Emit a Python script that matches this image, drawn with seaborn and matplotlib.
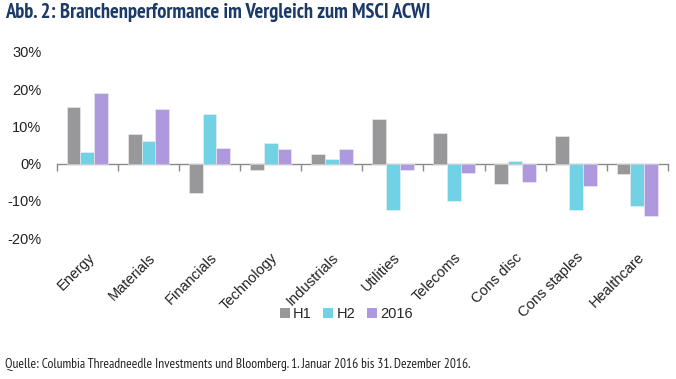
import matplotlib
matplotlib.use("Agg")
import matplotlib.pyplot as plt
from matplotlib.patches import Patch
import seaborn as sns
import pandas as pd

sectors = ["Energy", "Materials", "Financials", "Technology", "Industrials",
           "Utilities", "Telecoms", "Cons disc", "Cons staples", "Healthcare"]
h1 = [15.3, 8.0, -8.0, -1.6, 2.5, 12.0, 8.3, -5.6, 7.3, -2.9]
h2 = [3.1, 6.1, 13.2, 5.5, 1.3, -12.5, -10.1, 0.7, -12.5, -11.5]
y2016 = [18.9, 14.7, 4.3, 3.9, 3.8, -1.8, -2.5, -4.9, -6.0, -14.0]
periods = ["H1", "H2", "2016"]
colors = ["#98989a", "#72d2e5", "#ae98de"]
y_ticks = [-20, -10, 0, 10, 20, 30]

df = pd.DataFrame({"sector": sectors * 3,
                   "period": ["H1"] * 10 + ["H2"] * 10 + ["2016"] * 10,
                   "value": h1 + h2 + y2016})

sns.set_style("white")
narrow = ["PT Sans Narrow", "Archivo Narrow", "DejaVu Sans"]
plt.rcParams["font.family"] = ["Liberation Sans", "DejaVu Sans"]

fig = plt.figure(figsize=(6.76, 3.79), dpi=100)
ax = fig.add_axes([0.084, 0.372, 0.904, 0.491])

sns.barplot(data=df, x="sector", y="value", hue="period", hue_order=periods,
            palette=colors, width=0.68, edgecolor="#f0f0f0", linewidth=0.4,
            saturation=1, ax=ax)
ax.get_legend().remove()

ax.set_ylim(-20, 30)
ax.set_xlim(-0.5, len(sectors) - 0.5)
ax.set_yticks(y_ticks)
ax.set_yticklabels([f"{t}%" for t in y_ticks], fontsize=10.5, color="#222222")
ax.set_xlabel("")
ax.set_ylabel("")
ax.tick_params(axis="both", length=0)
ax.tick_params(axis="y", pad=11)
ax.tick_params(axis="x", pad=9)
ax.set_xticks(range(len(sectors)))
ax.set_xticklabels(sectors, rotation=45, ha="right", rotation_mode="anchor",
                   fontsize=10.5, color="#222222")
for s in ax.spines.values():
    s.set_visible(False)

# zero line with boundary ticks
sec = ax.secondary_xaxis(0, transform=ax.transData)
sec.set_xticks([i - 0.5 for i in range(len(sectors) + 1)])
sec.set_xticklabels([])
sec.tick_params(axis="x", direction="out", length=5, width=1, color="#8a8a8a")
sec.spines["bottom"].set_color("#8a8a8a")
sec.spines["bottom"].set_linewidth(1)

handles = [Patch(facecolor=c, edgecolor="none") for c in colors]
fig.legend(handles, periods, loc="center", bbox_to_anchor=(0.512, 0.171),
           ncol=3, frameon=False, fontsize=10.5, handlelength=0.7,
           handleheight=0.7, handletextpad=0.2, columnspacing=0.8)

fig.text(0.008, 0.966, "Abb. 2: Branchenperformance im Vergleich zum MSCI ACWI",
         fontsize=14.8, fontweight="bold", color="#1b3a68", family=narrow,
         va="center")
fig.text(0.008, 0.037,
         "Quelle: Columbia Threadneedle Investments und Bloomberg. 1. Januar 2016 bis 31. Dezember 2016.",
         fontsize=9.7, color="#222222", family=narrow, va="center")

fig.savefig("out.png", dpi=100)
